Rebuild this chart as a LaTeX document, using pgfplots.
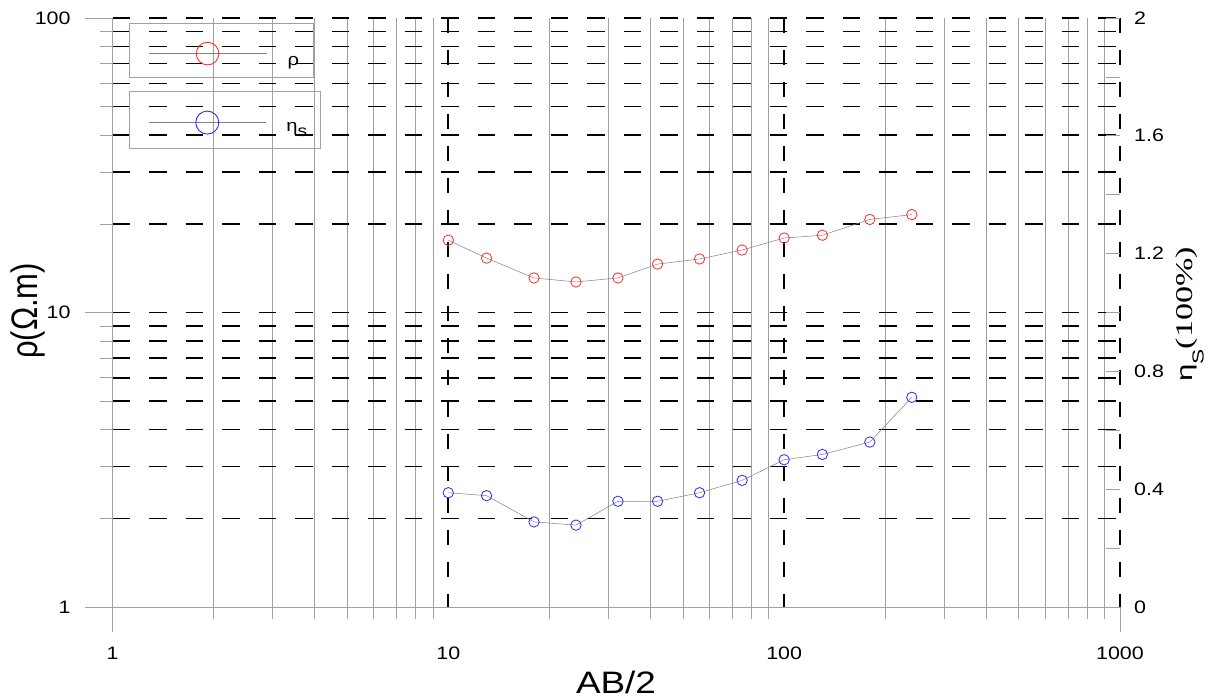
\documentclass[border=0pt]{standalone}
\usepackage{fontspec}
\setmainfont{Liberation Sans}[FakeStretch=1.19]
\newfontfamily\plainsans{Liberation Sans}
\newfontfamily\plainserif{Liberation Serif}
\usepackage{graphicx}
\usepackage{pgfplots}
\pgfplotsset{compat=1.18}

\definecolor{gridgray}{HTML}{A0A0A0}
\definecolor{rhored}{HTML}{FF2A2A}
\definecolor{etablue}{HTML}{2A2AFF}
\newcommand{\tickfont}{\fontsize{18}{18}\selectfont}
\newcommand{\legfont}{\fontsize{17}{17}\selectfont}

\begin{document}
\begin{tikzpicture}
\path[use as bounding box] (0,0) rectangle (1218pt,699pt);

% left axis: apparent resistivity
\begin{axis}[
  scale only axis, width=1007.5pt, height=589pt,
  at={(112.5pt,92pt)}, anchor=south west,
  clip=false,
  xmode=log, ymode=log,
  xmin=1, xmax=1000, ymin=1, ymax=100,
  axis line style={draw=none},
  xtick={1,10,100,1000}, xticklabels={1,10,100,1000},
  ytick={1,10,100}, yticklabels={1,10,100},
  minor xtick={2,3,4,5,6,7,8,9,20,30,40,50,60,70,80,90,200,300,400,500,600,700,800,900},
  minor ytick={2,3,4,5,6,7,8,9,10,20,30,40,50,60,70,80,90,100},
  major tick length=0pt, minor tick length=0pt,
  xtick pos=bottom, ytick pos=left,
  xminorgrids=true, yminorgrids=true,
  minor x grid style={gridgray, line width=0.7pt},
  minor y grid style={black, line width=1.6pt, dash pattern=on 17.5pt off 19pt},
  xticklabel style={font=\tickfont, anchor=north, inner sep=0pt, yshift=-40pt},
  yticklabel style={font=\tickfont, anchor=east, inner sep=0pt, xshift=-41.8pt},
  legend style={at={(0.01667,0.991)}, anchor=north west,
    draw=gridgray, line width=0.6pt, fill=none,
    inner xsep=14.6pt, inner ysep=0pt, column sep=0pt, font=\legfont,
    nodes={draw=none, inner sep=0pt, anchor=base west}},
]
% decade lines
\draw[black, line width=1.8pt, dash pattern=on 15pt off 17pt] (axis cs:10,100) -- (axis cs:10,1);
\draw[black, line width=1.8pt, dash pattern=on 15pt off 17pt] (axis cs:100,100) -- (axis cs:100,1);
\draw[black, line width=1.8pt, dash pattern=on 15pt off 17pt] (axis cs:1000,100) -- (axis cs:1000,1);
% frame and outward tick stubs
\draw[gridgray, line width=0.8pt] ([yshift=-25pt]axis cs:1,1) -- (axis cs:1,100);
\draw[gridgray, line width=0.8pt] ([yshift=-25pt]axis cs:1000,1) -- (axis cs:1000,1);
\draw[gridgray, line width=0.8pt] ([xshift=-27.5pt]axis cs:1,1) -- (axis cs:1000,1);
\pgfplotsinvokeforeach{2,3,4,5,6,7,8,9,20,30,40,50,60,70,80,90,200,300,400,500,600,700,800,900}{
  \draw[gridgray, line width=0.7pt] ([yshift=-12pt]axis cs:#1,1) -- (axis cs:#1,1);
}
\pgfplotsinvokeforeach{2,3,4,5,6,7,8,9,20,30,40,50,60,70,80,90}{
  \draw[gridgray, line width=0.7pt] ([xshift=-12.5pt]axis cs:1,#1) -- (axis cs:1,#1);
}
\pgfplotsinvokeforeach{10,100}{
  \draw[gridgray, line width=0.7pt] ([xshift=-27.5pt]axis cs:1,#1) -- (axis cs:1,#1);
  \draw[black, line width=1.6pt] (axis cs:#1,1) -- ([yshift=5pt]axis cs:#1,1);
}

\addplot[gray, line width=0.5pt, mark=o, mark size=5.2pt,
  mark options={rhored, line width=0.8pt, solid},
  legend image code/.code={
    \path[draw=none, fill=none] (-5.1pt,-24pt) rectangle (138.3pt,30pt);
    \draw[gray, line width=0.5pt] (0pt,0pt) -- (117.7pt,0pt);
    \draw[rhored, line width=0.9pt] (58.3pt,0pt) circle[radius=11.3pt];
  }] coordinates {
  (10,17.6) (13,15.3) (18,13.1) (24,12.7) (32,13.1) (42,14.6)
  (56,15.2) (75,16.3) (100,17.9) (130,18.3) (180,20.7) (240,21.5)
};
\addlegendentry{\raisebox{-12pt}{ρ}}
\end{axis}

% right axis: chargeability
\begin{axis}[
  scale only axis, width=1007.5pt, height=589pt,
  at={(112.5pt,92pt)}, anchor=south west,
  clip=false,
  xmode=log, xmin=1, xmax=1000,
  ymin=0, ymax=2,
  hide x axis,
  axis line style={draw=none},
  ytick={0,0.4,0.8,1.2,1.6,2}, yticklabels={0,0.4,0.8,1.2,1.6,2},
  minor ytick={0.2,0.6,1,1.4,1.8},
  ytick pos=right, yticklabel pos=right,
  tick align=inside,
  major tick length=14pt, minor tick length=14pt,
  tick style={gridgray, line width=0.6pt},
  yticklabel style={font=\tickfont, anchor=west, inner sep=0pt, xshift=14pt},
  legend style={at={(0.01608,0.87657)}, anchor=north west,
    draw=gridgray, line width=0.6pt, fill=none,
    inner xsep=13.6pt, inner ysep=0pt, column sep=0pt, font=\legfont,
    nodes={draw=none, inner sep=0pt, anchor=base west}},
]
\addplot[gray, line width=0.5pt, mark=o, mark size=5.2pt,
  mark options={etablue, line width=0.8pt, solid},
  legend image code/.code={
    \path[draw=none, fill=none] (-6pt,-25.7pt) rectangle (137.7pt,31.6pt);
    \draw[gray, line width=0.5pt] (0pt,0pt) -- (117.4pt,0pt);
    \draw[etablue, line width=0.9pt] (58.7pt,0pt) circle[radius=11.5pt];
  }] coordinates {
  (10,0.388) (13,0.378) (18,0.289) (24,0.278) (32,0.359) (42,0.359)
  (56,0.388) (75,0.430) (100,0.500) (130,0.518) (180,0.560) (240,0.712)
};
\addlegendentry{\raisebox{-9pt}{η\raisebox{-5pt}{\fontsize{16}{16}\selectfont s}}}
\end{axis}

% axis titles
\node[anchor=base, font=\fontsize{31}{31}\selectfont] at (616pt,6pt) {AB/2};
\node[rotate=90, inner sep=0pt] at (27.5pt,388pt)
  {\scalebox{1}[1.19]{\plainsans\fontsize{31}{31}\selectfont ρ(Ω.m)}};
\node[rotate=90, inner sep=0pt, anchor=base west] at (1192.7pt,317pt)
  {\scalebox{1.42}[1]{\plainsans\fontsize{22}{22}\selectfont η\raisebox{-11pt}{\fontsize{16}{16}\selectfont S}\plainserif\fontsize{24}{24}\selectfont(100\%)}};
\end{tikzpicture}
\end{document}
